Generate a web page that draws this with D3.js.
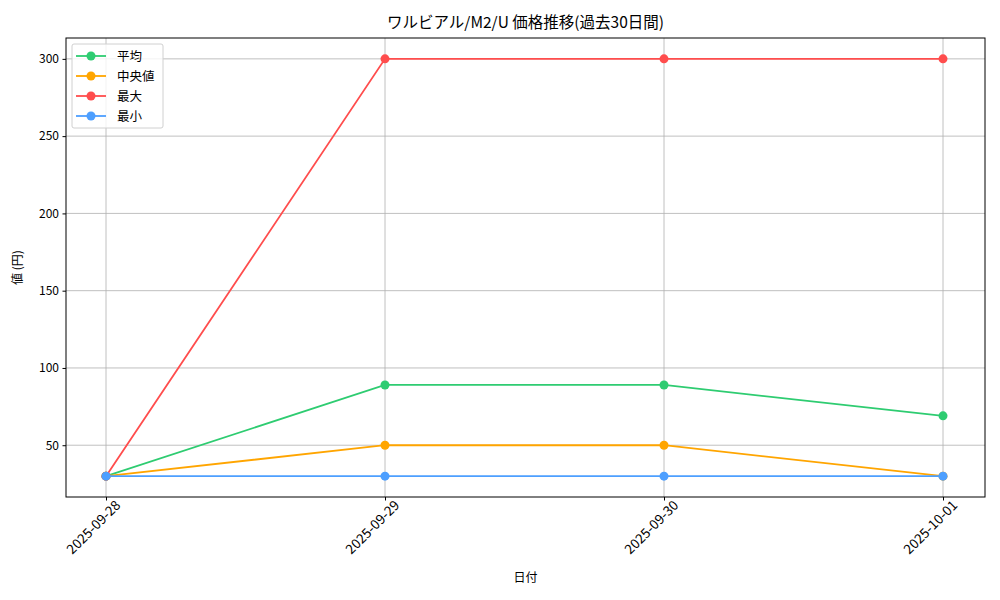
<!DOCTYPE html>
<html><head><meta charset="utf-8">
<script src="https://cdn.jsdelivr.net/npm/d3@7"></script>
<style>body{margin:0;background:#fff;} text{font-family:"Noto Sans CJK JP",sans-serif;}</style>
</head><body>
<svg id="c" width="1000" height="600"></svg>
<script>
const dates = ["2025-09-28","2025-09-29","2025-09-30","2025-10-01"];
const meanVals = [30, 89, 89, 69];
const medianVals = [30, 50, 50, 30];
const maxVals = [30, 300, 300, 300];
const minVals = [30, 30, 30, 30];
const yTicks = [50, 100, 150, 200, 250, 300];
const seriesNames = ["平均","中央値","最大","最小"];
const seriesColors = ["#2ecc71","#ffa500","#ff4d4d","#4d9fff"];
const seriesData = [meanVals, medianVals, maxVals, minVals];

const svg = d3.select("#c");
const L=66, R=985, T=38, B=497;
const x = d3.scalePoint().domain(dates).range([106, 943]);
const y = d3.scaleLinear().domain([16.5, 313.5]).range([B, T]);

// grid
const g = svg.append("g");
g.selectAll(".gx").data(dates).enter().append("line")
  .attr("x1",d=>x(d)).attr("x2",d=>x(d)).attr("y1",T).attr("y2",B)
  .attr("stroke","#b0b0b0").attr("stroke-width",0.8);
g.selectAll(".gy").data(yTicks).enter().append("line")
  .attr("x1",L).attr("x2",R).attr("y1",d=>y(d)).attr("y2",d=>y(d))
  .attr("stroke","#b0b0b0").attr("stroke-width",0.8);

// axes
const xAxis = svg.append("g").attr("transform",`translate(0,${B})`)
  .call(d3.axisBottom(x).tickSize(3.5).tickPadding(4));
xAxis.select(".domain").remove();
xAxis.selectAll("text").attr("font-size",13.5).attr("fill","#000")
  .attr("text-anchor","end").attr("dx","0.3em").attr("dy","0.7em")
  .attr("transform","rotate(-45)");
const yAxis = svg.append("g").attr("transform",`translate(${L},0)`)
  .call(d3.axisLeft(y).tickValues(yTicks).tickSize(3.5).tickPadding(3.5));
yAxis.select(".domain").remove();
yAxis.selectAll("text").attr("font-size",12).attr("fill","#000");

// lines
const line = d3.line().x((d,i)=>x(dates[i])).y(d=>y(d));
seriesData.forEach((vals,k)=>{
  svg.append("path").datum(vals).attr("d",line).attr("fill","none")
    .attr("stroke",seriesColors[k]).attr("stroke-width",1.8);
  svg.selectAll(".m"+k).data(vals).enter().append("circle")
    .attr("cx",(d,i)=>x(dates[i])).attr("cy",d=>y(d)).attr("r",4.5)
    .attr("fill",seriesColors[k]);
});

// frame
svg.append("rect").attr("x",L).attr("y",T).attr("width",R-L).attr("height",B-T)
  .attr("fill","none").attr("stroke","#000").attr("stroke-width",1);

// title & labels
svg.append("text").attr("x",(L+R)/2).attr("y",28).attr("text-anchor","middle")
  .attr("font-size",15.5).text("ワルビアル/M2/U 価格推移(過去30日間)");
svg.append("text").attr("x",(L+R)/2).attr("y",582).attr("text-anchor","middle")
  .attr("font-size",12).text("日付");
svg.append("text").attr("transform",`translate(22,${(T+B)/2}) rotate(-90)`)
  .attr("text-anchor","middle").attr("font-size",12).text("値 (円)");

// legend
const lg = svg.append("g");
lg.append("rect").attr("x",72).attr("y",44).attr("width",91).attr("height",84)
  .attr("rx",2).attr("fill","#fff").attr("fill-opacity",0.8)
  .attr("stroke","#d0d0d0");
seriesNames.forEach((n,k)=>{
  const yy = 56 + k*20;
  lg.append("line").attr("x1",76).attr("x2",106).attr("y1",yy).attr("y2",yy)
    .attr("stroke",seriesColors[k]).attr("stroke-width",1.8);
  lg.append("circle").attr("cx",91).attr("cy",yy).attr("r",4.5).attr("fill",seriesColors[k]);
  lg.append("text").attr("x",117).attr("y",yy+4.5).attr("font-size",12.5).text(n);
});
</script>
</body></html>
